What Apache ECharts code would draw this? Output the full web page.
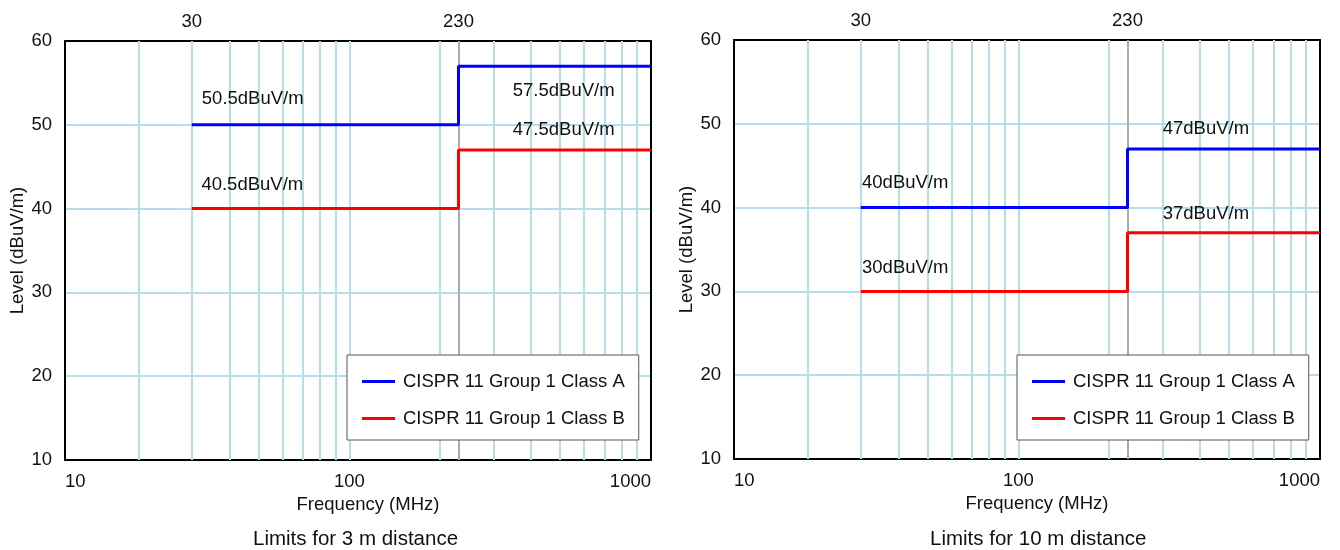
<!DOCTYPE html>
<html>
<head>
<meta charset="utf-8">
<script src="https://cdn.jsdelivr.net/npm/echarts@6/dist/echarts.min.js"></script>
<style>
html, body { margin: 0; padding: 0; background: #fff; }
#chart { width: 1340px; height: 550px; }
</style>
</head>
<body>
<div id="chart"></div>
<script>
// step limits: value holds from one frequency to the next
var stepFreq = [30, 230, 1000];
var classA3m = [50, 57, 57];
var classB3m = [40, 47, 47];
var classA10m = [40, 47, 47];
var classB10m = [30, 37, 37];

// vertical grid lines (MHz) and the marked edge frequencies
var gridFreq = [20, 30, 40, 50, 60, 70, 80, 90, 100, 200, 300, 400, 500, 600, 700, 800, 900];
var edgeFreq = 230;
var topLabels = [30, 230];

// limit annotations, anchored in data space [MHz, dBuV/m]
var notes3m = ['50.5dBuV/m', '57.5dBuV/m', '40.5dBuV/m', '47.5dBuV/m'];
var notes3mAt = [[32.4, 53.1], [348, 54.0], [32.3, 42.8], [348, 49.4]];
var notes10m = ['40dBuV/m', '47dBuV/m', '30dBuV/m', '37dBuV/m'];
var notes10mAt = [[30.3, 42.9], [301, 49.4], [30.3, 32.8], [301, 39.2]];

var nameA = 'CISPR 11 Group 1 Class A';
var nameB = 'CISPR 11 Group 1 Class B';
var fMin = 11.4, fMax = 1000;
var font = 'Liberation Sans, Arial, sans-serif';
var ink = '#111';
var fs = 18.5;

var chart = echarts.init(document.getElementById('chart'));

function pts(vals) {
    return stepFreq.map(function (f, i) { return [f, vals[i]]; });
}

function notePoints(texts, at) {
    return texts.map(function (t, i) {
        return { coord: at[i], label: { formatter: t } };
    });
}

function gridLines() {
    var d = gridFreq.map(function (f) {
        var it = { xAxis: f };
        if (topLabels.indexOf(f) >= 0) {
            it.label = { show: true, formatter: String(f) };
        }
        return it;
    });
    d.push({ xAxis: edgeFreq, lineStyle: { color: '#aaaaaa' },
             label: { show: topLabels.indexOf(edgeFreq) >= 0, formatter: String(edgeFreq) } });
    return d;
}

function limitSeries(name, vals, idx, color, texts, at) {
    return {
        name: name, type: 'line', xAxisIndex: idx * 2, yAxisIndex: idx * 2,
        data: pts(vals), step: 'end', symbol: 'none', z: 3,
        lineStyle: { color: color, width: 3 }, itemStyle: { color: color },
        markPoint: {
            symbol: 'circle', symbolSize: 0, silent: true, z: 3,
            label: { show: true, position: 'right', distance: 0, fontSize: fs, color: ink, fontFamily: font },
            data: notePoints(texts, at)
        }
    };
}

function gridSeries(idx) {
    return {
        name: 'grid' + idx, type: 'line', xAxisIndex: idx * 2, yAxisIndex: idx * 2, data: [], z: 1,
        markLine: {
            silent: true, symbol: 'none', z: 1,
            lineStyle: { color: '#b7dde8', width: 2, type: 'solid' },
            label: { show: false, position: 'end', distance: 10, fontSize: fs, color: ink, fontFamily: font },
            data: gridLines()
        }
    };
}

function xAxes(idx) {
    return [{
        type: 'log', gridIndex: idx, min: fMin, max: fMax, position: 'bottom',
        axisLine: { show: true, lineStyle: { color: '#000', width: 2 } },
        axisTick: { show: false }, splitLine: { show: false }, minorSplitLine: { show: false },
        axisLabel: {
            fontSize: fs, color: ink, fontFamily: font, margin: 12,
            showMinLabel: true, showMaxLabel: true, alignMinLabel: 'left', alignMaxLabel: 'right',
            formatter: function (v) { return v < 20 ? '10' : String(Math.round(v)); }
        },
        name: 'Frequency (MHz)', nameLocation: 'middle', nameGap: 31,
        nameTextStyle: { fontSize: fs, color: ink, fontFamily: font, padding: [0, 0, 0, 20] }
    }, {
        type: 'log', gridIndex: idx, min: fMin, max: fMax, position: 'top',
        axisLine: { show: true, lineStyle: { color: '#000', width: 2 } },
        axisTick: { show: false }, axisLabel: { show: false }, splitLine: { show: false }
    }];
}

function yAxes(idx) {
    return [{
        type: 'value', gridIndex: idx, min: 10, max: 60, interval: 10, position: 'left',
        axisLine: { show: true, lineStyle: { color: '#000', width: 2 } },
        axisTick: { show: false },
        splitLine: { show: true, lineStyle: { color: '#b7dde8', width: 2 } },
        axisLabel: { fontSize: fs, color: ink, fontFamily: font, margin: 13 },
        name: 'Level (dBuV/m)', nameLocation: 'middle', nameGap: 38,
        nameTextStyle: { fontSize: fs, color: ink, fontFamily: font }
    }, {
        type: 'value', gridIndex: idx, min: 10, max: 60, position: 'right',
        axisLine: { show: true, lineStyle: { color: '#000', width: 2 } },
        axisTick: { show: false }, axisLabel: { show: false }, splitLine: { show: false }
    }];
}

function legendAt(left) {
    return {
        left: left, top: 355, orient: 'vertical', data: [nameA, nameB], z: 10,
        icon: 'rect', itemWidth: 33, itemHeight: 3, itemGap: 18,
        padding: [17, 14, 12, 15], borderColor: '#555', borderWidth: 1, borderRadius: 0,
        backgroundColor: '#fff',
        textStyle: { fontSize: fs, color: ink, fontFamily: font, padding: [0, 0, 0, 3] }
    };
}

option = {
    animation: false,
    textStyle: { fontFamily: font },
    title: [
        { text: 'Limits for 3 m distance', left: 253, top: 529, padding: 0,
          textStyle: { fontSize: 20.5, fontWeight: 'normal', color: ink, fontFamily: font } },
        { text: 'Limits for 10 m distance', left: 930, top: 529, padding: 0,
          textStyle: { fontSize: 20.5, fontWeight: 'normal', color: ink, fontFamily: font } }
    ],
    legend: [legendAt(347), legendAt(1017)],
    grid: [
        { left: 65, right: 689, top: 41, bottom: 90 },
        { left: 734, right: 20, top: 40, bottom: 91 }
    ],
    xAxis: xAxes(0).concat(xAxes(1)),
    yAxis: yAxes(0).concat(yAxes(1)),
    series: [
        gridSeries(0),
        limitSeries(nameA, classA3m, 0, '#0000ff', notes3m.slice(0, 2), notes3mAt.slice(0, 2)),
        limitSeries(nameB, classB3m, 0, '#ff0000', notes3m.slice(2), notes3mAt.slice(2)),
        gridSeries(1),
        limitSeries(nameA, classA10m, 1, '#0000ff', notes10m.slice(0, 2), notes10mAt.slice(0, 2)),
        limitSeries(nameB, classB10m, 1, '#ff0000', notes10m.slice(2), notes10mAt.slice(2))
    ]
};
chart.setOption(option);
</script>
</body>
</html>
